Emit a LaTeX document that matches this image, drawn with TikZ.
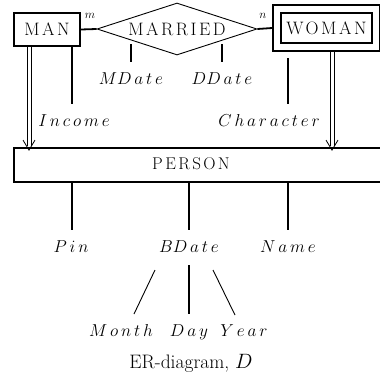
\documentclass[tikz,border=0pt]{standalone}
\usepackage{fontspec}
\usetikzlibrary{shapes.geometric,fit}
\newfontfamily\boxfont{Latin Modern Roman}[LetterSpace=14]
\tikzset{
  thickline/.style={line width=1.8pt},
  thinline/.style={line width=0.9pt},
  isaline/.style={line width=0.8pt},
  entity/.style={draw, thickline, inner sep=0pt,
    font=\fontsize{18}{21}\boxfont},
  relation/.style={draw, thinline, diamond, aspect=3.1, inner sep=0pt,
    minimum width=160pt, minimum height=52pt,
    font=\fontsize{18}{21}\boxfont},
  attr/.style={inner sep=0pt, minimum height=36pt, text height=12pt,
    text depth=3.5pt, font=\fontsize{17}{20}\selectfont},
  card/.style={inner sep=0pt, font=\fontsize{13}{15}\selectfont},
}
\begin{document}
\begin{tikzpicture}[x=1pt,y=-1pt]
\useasboundingbox (0,0) rectangle (380,383);
\clip (0,0) rectangle (380,383);

% entities and the relationship
\node[entity, minimum width=66pt, minimum height=33pt] (man) at (47,29.5) {MAN};
\node[relation] (married) at (177,29) {MARRIED};
\node[entity, minimum width=91pt, minimum height=30pt] (woman) at (326.5,28) {WOMAN};
\node[draw, thickline, fit=(woman), inner sep=7pt] (wouter) {};
\node[draw, thickline, minimum width=370pt, minimum height=34pt, inner sep=0pt]
  (person) at (199,165) {};
\node[font=\fontsize{17}{20}\boxfont, inner sep=0pt] (personlbl) at (191,164) {PERSON};

% cardinalities
\node[card] (cm) at (90,16) {$m$};
\node[card] (cn) at (263,16) {$n$};

\draw[thickline] (man.east) -- (married.west);
\draw[thickline] (married.east) -- (wouter.west);

% attributes of MARRIED
\node[attr] (mdate) at (131,80) {$MD\,a\,t\,e$};
\node[attr] (ddate) at (222,80) {$DD\,a\,t\,e$};
\draw[thickline] (married.south -| mdate.north) ++(0,-11) coordinate (mtop) (mtop) -- (mdate.north);
\draw[thickline] (married.south -| ddate.north) ++(0,-11) coordinate (dtop) (dtop) -- (ddate.north);

% attributes of MAN and WOMAN
\node[attr] (income) at (74,122) {$I\,n\,c\,o\,m\,e$};
\node[attr] (character) at (269,122) {$C\,h\,a\,r\,a\,c\,t\,e\,r$};
\coordinate (incbot) at (72,104);
\coordinate (chartop) at (288,58);
\coordinate (charbot) at (288,104);
\draw[thickline] (man.south -| incbot) -- (incbot);
\draw[thickline] (chartop) -- (charbot);

% generalisation arrows: double shaft with an open V head
\coordinate (manx) at (29,0);
\coordinate (womx) at (332,0);
\coordinate (mantop) at (man.south -| manx);
\coordinate (mantip) at ([yshift=-3pt]person.north -| manx);
\coordinate (womtop) at (wouter.south -| womx);
\coordinate (womtip) at ([yshift=-3pt]person.north -| womx);
\foreach \a/\b in {mantop/mantip, womtop/womtip} {
  \draw[isaline] ([xshift=-2pt]\a) -- ([shift={(-2,-4)}]\b);
  \draw[isaline] ([xshift=2pt]\a) -- ([shift={(2,-4)}]\b);
  \draw[isaline] ([shift={(-6,-10)}]\b) -- (\b) -- ([shift={(6,-10)}]\b);
}

% attributes of PERSON
\node[attr] (pin) at (71,248) {$P\,i\,n$};
\node[attr] (bdate) at (189,248) {$BD\,a\,t\,e$};
\node[attr] (name) at (288,248) {$N\,a\,m\,e$};
\coordinate (pinx) at (72,0);
\draw[thickline] (person.south -| pinx) -- (pinx |- pin.north);
\draw[thickline] (person.south -| bdate.north) -- (bdate.north);
\draw[thickline] (person.south -| name.north) -- (name.north);

% parts of BDate
\node[attr] (month) at (121,332) {$M\,o\,n\,t\,h$};
\node[attr] (day) at (189,332) {$D\,a\,y$};
\node[attr] (year) at (244,332) {$Y\,e\,a\,r$};
\coordinate (mslash1) at (155,270);
\coordinate (mslash2) at (134,314);
\coordinate (yslash1) at (213,270);
\coordinate (yslash2) at (235,315);
\coordinate (daytop) at (189,265);
\draw[thinline] (mslash1) -- (mslash2);
\draw[thinline] (yslash1) -- (yslash2);
\draw[thickline] (daytop) -- (day.north);

% caption
\node[font=\fontsize{19.5}{23}\selectfont, inner sep=0pt] (caption) at (191,363)
  {ER-diagram, $D$};
\end{tikzpicture}
\end{document}
